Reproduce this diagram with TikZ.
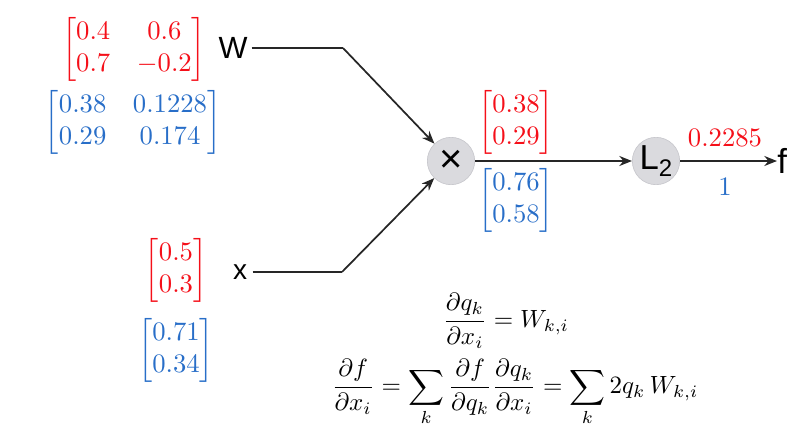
\documentclass[tikz,border=0pt]{standalone}
\usepackage{amsmath}
\usepackage{fontspec}
\newfontfamily\hel{Liberation Sans}
\usetikzlibrary{arrows.meta}
\definecolor{cred}{RGB}{245,15,25}
\definecolor{cblue}{RGB}{40,110,200}
\definecolor{nodegray}{RGB}{218,218,222}
\definecolor{nodeedge}{RGB}{200,200,205}
\tikzset{
  op/.style={circle, fill=nodegray, draw=nodeedge, line width=0.5pt, minimum size=35.5pt, inner sep=0pt},
  lab/.style={inner sep=0pt, font=\hel\fontsize{23}{23}\selectfont},
  val/.style={inner sep=0pt, scale=2},
  eq/.style={inner sep=0pt, scale=1.87},
  wire/.style={line width=1.3pt, black!85},
  arr/.style={wire, -{Stealth[length=9.5pt,width=7.5pt]}}
}
\begin{document}
\begin{tikzpicture}[x=0.75pt,y=-0.75pt]
\useasboundingbox (0,0) rectangle (812,439);
% operation nodes
\node[op] (mul) at (451,161) {\hel\fontsize{30}{30}\selectfont ×};
\node[op] (L2) at (656,161) {\hel\fontsize{26}{26}\selectfont L\raisebox{-0.2em}{\fontsize{18}{18}\selectfont 2}};
% labels
\node[lab] (W) at (233,48) {W};
\node[lab, font=\hel\fontsize{21}{21}\selectfont] (x) at (240,272) {x};
\node[lab, anchor=west, font=\hel\fontsize{26}{26}\selectfont] (f) at (777,161) {f};
\coordinate (wc) at (343,48);
\coordinate (xc) at (342,272);
% connectors
\draw[wire] (W.east) ++(3pt,0) -- (wc);
\draw[arr] (wc) -- (mul);
\draw[wire] (x.east) ++(4pt,0) -- (xc);
\draw[arr] (xc) -- (mul);
\draw[arr] (mul) -- (L2);
\draw[arr] (L2) -- (f.west);
% values (red) and gradients (blue)
\node[val, text=cred] (Wv) at (134,49) {$\begin{bmatrix}0.4 & 0.6\\0.7 & -0.2\end{bmatrix}$};
\node[val, text=cblue] (Wg) at (133,122) {$\begin{bmatrix}0.38 & 0.1228\\0.29 & 0.174\end{bmatrix}$};
\node[val, text=cred] (xv) at (176,270) {$\begin{bmatrix}0.5\\0.3\end{bmatrix}$};
\node[val, text=cblue] (xg) at (176,350) {$\begin{bmatrix}0.71\\0.34\end{bmatrix}$};
\node[val, text=cred] (qv) at (516,122) {$\begin{bmatrix}0.38\\0.29\end{bmatrix}$};
\node[val, text=cblue] (qg) at (516,200) {$\begin{bmatrix}0.76\\0.58\end{bmatrix}$};
\node[val, text=cred] (fv) at (725,138) {$0.2285$};
\node[val, text=cblue] (fg) at (725,187) {$1$};
% equations
\node[eq] (e1) at (506,321) {$\dfrac{\partial q_k}{\partial x_i} = W_{k,i}$};
\node[eq] (e2) at (515,393) {$\displaystyle\frac{\partial f}{\partial x_i} = \sum_k \frac{\partial f}{\partial q_k}\frac{\partial q_k}{\partial x_i} = \sum_k 2q_k\,W_{k,i}$};
\end{tikzpicture}
\end{document}
